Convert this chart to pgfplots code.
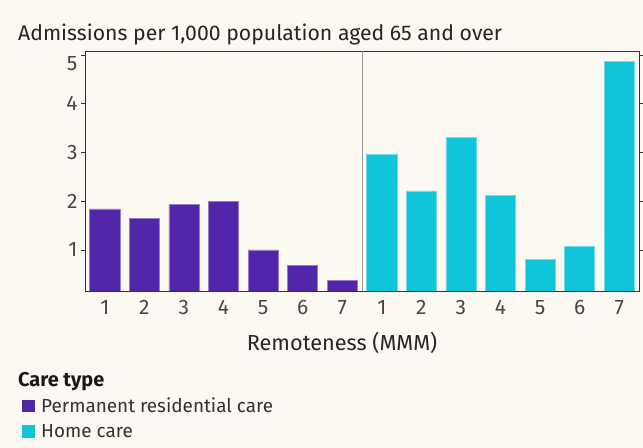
\documentclass[border=0pt]{standalone}
\usepackage{pgfplots}
\pgfplotsset{compat=1.18}
\usepackage{fontspec}
\setmainfont{Fira Sans}
\definecolor{bg}{HTML}{FCF8F2}
\definecolor{purp}{HTML}{5126A9}
\definecolor{cyanb}{HTML}{10C5DA}
\definecolor{txt}{HTML}{333333}
\begin{document}
\begin{tikzpicture}
\fill[bg] (0,0) rectangle (643bp,448bp);
\node[anchor=base west, font=\fontsize{21.3}{24}\selectfont, text=black!85, inner sep=0pt] at (18bp,407.5bp) {Admissions per 1,000 population aged 65 and over};
\node[anchor=base west, font=\fontsize{20}{22}\selectfont\bfseries, text=black!90, inner sep=0pt] at (18bp,61bp) {Care type};
\begin{axis}[
  at={(85bp,157bp)}, anchor=south west,
  scale only axis, width=554bp, height=240bp,
  xmin=0.5, xmax=14.5, ymin=0.155, ymax=5.08,
  ybar, bar width=0.76,
  xtick={1,...,14}, xticklabels={1,2,3,4,5,6,7,1,2,3,4,5,6,7},
  ytick={1,2,3,4},
  extra y ticks={5}, extra y tick style={yticklabel style={yshift=-9bp}},
  tick align=outside, major tick length=4bp,
  xtick style={draw=none}, ytick style={draw=txt, line width=0.6pt},
  axis line style={draw=txt, line width=0.8pt},
  ticklabel style={font=\fontsize{21}{24}\selectfont, text=black!72},
  xticklabel style={yshift=-2bp},
  /pgf/number format/assume math mode=true,
  extra x ticks={7.5}, extra x tick labels={},
  extra x tick style={grid=major, major grid style={draw=gray!80, line width=0.8pt}, tick style={draw=none}},
  xlabel={Remoteness (MMM)},
  xlabel style={at={(axis description cs:0.464,-0.2167)}, anchor=center, font=\fontsize{21.8}{24}\selectfont, text=black!85},
  legend style={at={(axis description cs:-0.1173,-0.4375)}, anchor=north west, draw=none, fill=none,
    font=\fontsize{19}{22}\selectfont, text=black!80, row sep=6bp, inner sep=0pt},
  legend cell align=left,
  axis background/.style={fill=bg},
]
\addplot[fill=purp, draw=purp!60!white, line width=0.6pt, bar shift=0pt,
  legend image code/.code={\fill[purp, draw=none] (2bp,-6bp) rectangle (14.5bp,6.5bp); \path[draw=none, fill=none] (0bp,0bp) -- (19bp,0bp);}]
  coordinates {(1,1.84) (2,1.65) (3,1.94) (4,2.00) (5,1.00) (6,0.68) (7,0.38)};
\addlegendentry{Permanent residential care}
\addplot[fill=cyanb, draw=cyanb!60!white, line width=0.6pt, bar shift=0pt,
  legend image code/.code={\fill[cyanb, draw=none] (2bp,-6bp) rectangle (14.5bp,6.5bp); \path[draw=none, fill=none] (0bp,0bp) -- (19bp,0bp);}]
  coordinates {(8,2.96) (9,2.21) (10,3.31) (11,2.12) (12,0.81) (13,1.07) (14,4.86)};
\addlegendentry{Home care}
\end{axis}
\pgfresetboundingbox
\useasboundingbox (0,0) rectangle (643bp,448bp);
\end{tikzpicture}
\end{document}
